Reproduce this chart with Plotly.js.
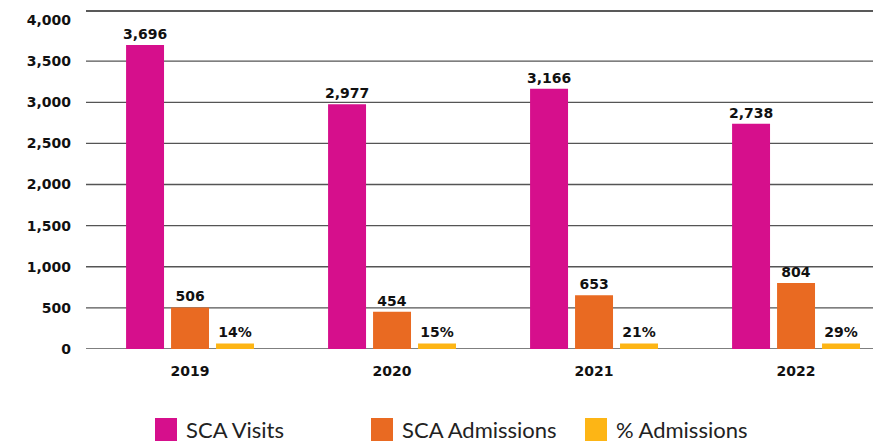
<!DOCTYPE html>
<html>
<head>
<meta charset="utf-8">
<script src="https://cdn.plot.ly/plotly-3.0.1.min.js"></script>
<style>html,body{margin:0;padding:0;background:#fff;}#chart{width:873px;height:443px;}</style>
</head>
<body>
<div id="chart"></div>
<script>
// ---- data ----
var years = ['2019', '2020', '2021', '2022'];
var scaVisits = [3696, 2977, 3166, 2738];
var scaAdmissions = [506, 454, 653, 804];
var pctAdmissions = [14, 15, 21, 29];
// displayed height of the % bars (axis units)
var pctBarHeight = [68, 68, 68, 68];
var seriesNames = ['SCA Visits', 'SCA Admissions', '% Admissions'];
var yTickVals = [0, 500, 1000, 1500, 2000, 2500, 3000, 3500, 4000];
var yTickText = ['0', '500', '1,000', '1,500', '2,000', '2,500', '3,000', '3,500', '4,000'];
var gridVals = [0, 500, 1000, 1500, 2000, 2500, 3000, 3500];

// ---- styles ----
var colors = ['#D60F8C', '#E96A22', '#FDB515'];
var numFont = {family: 'DejaVu Sans', size: 14, color: '#111', weight: 'bold'};

function fmt(v) { return v.toLocaleString('en-US'); }

function barTrace(y, name, color, text) {
  return {type: 'bar', x: years, y: y, name: name, marker: {color: color},
          text: text, textposition: 'outside', textfont: numFont, constraintext: 'none',
          cliponaxis: false, hoverinfo: 'x+text'};
}

var traces = [
  barTrace(scaVisits, seriesNames[0], colors[0], scaVisits.map(fmt)),
  barTrace(scaAdmissions, seriesNames[1], colors[1], scaAdmissions.map(fmt)),
  barTrace(pctBarHeight, seriesNames[2], colors[2], pctAdmissions.map(function (v) { return v + '%'; }))
];

// layout helpers (pixel -> paper) for legend placement
var L = 86, R = 0, T = 11, B = 94, W = 873, H = 443;
function px(x) { return (x - L) / (W - L - R); }
function py(y) { return (H - B - y) / (H - T - B); }

var shapes = gridVals.map(function (v) {
  return {type: 'line', xref: 'paper', yref: 'y', x0: 0, x1: 1, y0: v, y1: v,
          line: {color: '#555', width: 1.3}, layer: 'below'};
});
shapes.push({type: 'line', xref: 'paper', yref: 'paper', x0: 0, x1: 1, y0: 1, y1: 1,
             line: {color: '#222', width: 1.3}, layer: 'below'});

var annotations = [];
var legX = [155, 371, 585];
seriesNames.forEach(function (n, i) {
  shapes.push({type: 'rect', xref: 'paper', yref: 'paper',
               x0: px(legX[i]), x1: px(legX[i] + 22), y0: py(441), y1: py(418),
               fillcolor: colors[i], line: {width: 0}});
  annotations.push({xref: 'paper', yref: 'paper', x: px(legX[i] + 30), y: py(429.5),
                    xanchor: 'left', yanchor: 'middle', showarrow: false, text: n,
                    borderpad: 0,
                    font: {family: 'Lato', size: 22, color: '#222'}});
});

var layout = {
  width: W, height: H,
  margin: {l: L, r: R, t: T, b: B, pad: 0},
  paper_bgcolor: '#fff', plot_bgcolor: '#fff',
  barmode: 'group', bargap: 0.332, bargroupgap: 0.156,
  showlegend: false,
  xaxis: {type: 'category', range: [-0.515, 3.381], showgrid: false, zeroline: false,
          showline: false, ticks: '', tickfont: numFont, ticklabelstandoff: 12, fixedrange: true},
  yaxis: {range: [0, 4110], tickvals: yTickVals, ticktext: yTickText, showgrid: false,
          zeroline: false, showline: false, ticks: '', tickfont: numFont,
          ticklabelstandoff: 14, fixedrange: true},
  shapes: shapes,
  annotations: annotations,
  font: {family: 'DejaVu Sans', color: '#111'}
};

Plotly.newPlot('chart', traces, layout, {displayModeBar: false, staticPlot: true});
</script>
</body>
</html>
